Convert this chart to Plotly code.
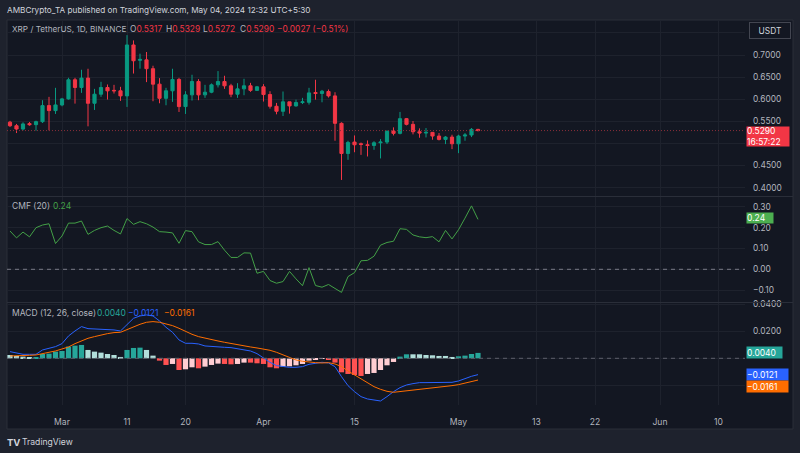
import pandas as pd
import plotly.graph_objects as go

W, H = 800, 453

# ---------------- data ----------------
start_date = "2024-02-22"
opens = [0.548, 0.540, 0.5325, 0.5447, 0.5424, 0.5492, 0.5855, 0.5742, 0.587, 0.6007,
         0.644, 0.6265, 0.6477, 0.5908, 0.6113, 0.6265, 0.620, 0.619, 0.6075, 0.7227,
         0.688, 0.689, 0.669, 0.634, 0.602, 0.619, 0.6447, 0.5833, 0.6098, 0.640,
         0.6098, 0.6158, 0.6325, 0.640, 0.6303, 0.6113, 0.6234, 0.6303, 0.620, 0.628,
         0.6105, 0.584, 0.5727, 0.594, 0.5848, 0.5924, 0.593, 0.615, 0.613, 0.6174,
         0.6075, 0.5454, 0.4772, 0.503, 0.4992, 0.4969, 0.4954, 0.5014, 0.503, 0.5279,
         0.5227, 0.556, 0.5431, 0.5264, 0.5234, 0.525, 0.5166, 0.509, 0.5143, 0.4992,
         0.5166, 0.519, 0.5317]
highs = [0.551, 0.544, 0.5477, 0.5484, 0.5514, 0.5977, 0.6053, 0.6257, 0.603, 0.6484,
         0.6484, 0.6666, 0.6689, 0.6234, 0.6394, 0.6333, 0.6325, 0.628, 0.745, 0.733,
         0.703, 0.7068, 0.6757, 0.6477, 0.6257, 0.6689, 0.6484, 0.6181, 0.6553, 0.6454,
         0.6325, 0.6356, 0.6636, 0.653, 0.6348, 0.6363, 0.6462, 0.637, 0.630, 0.634,
         0.618, 0.5916, 0.6174, 0.594, 0.599, 0.603, 0.6257, 0.644, 0.621, 0.622,
         0.6158, 0.5477, 0.506, 0.518, 0.502, 0.5067, 0.505, 0.5098, 0.528, 0.5363,
         0.5712, 0.5575, 0.5507, 0.534, 0.5348, 0.525, 0.5234, 0.5166, 0.5196, 0.5196,
         0.5234, 0.5348, 0.5329]
lows = [0.537, 0.5234, 0.5295, 0.540, 0.5287, 0.5462, 0.5295, 0.5666, 0.584, 0.599,
        0.590, 0.6143, 0.5386, 0.5757, 0.6053, 0.5992, 0.6128, 0.5961, 0.5825, 0.658,
        0.669, 0.6386, 0.5954, 0.5908, 0.5863, 0.5939, 0.5711, 0.5666, 0.5969, 0.5977,
        0.603, 0.6136, 0.6265, 0.6234, 0.6045, 0.603, 0.609, 0.6166, 0.619, 0.5947,
        0.5787, 0.5658, 0.562, 0.5673, 0.5833, 0.589, 0.5878, 0.599, 0.593, 0.6037,
        0.506, 0.4173, 0.4628, 0.480, 0.474, 0.4704, 0.4855, 0.466, 0.4985, 0.518,
        0.5204, 0.5408, 0.5204, 0.5128, 0.5135, 0.5083, 0.5067, 0.4984, 0.487, 0.4779,
        0.506, 0.5143, 0.5272]
closes = [0.540, 0.5325, 0.544, 0.5424, 0.5492, 0.5855, 0.5742, 0.587, 0.6007, 0.644,
          0.6265, 0.6477, 0.5908, 0.6113, 0.6265, 0.6189, 0.619, 0.6075, 0.7227, 0.687,
          0.690, 0.669, 0.634, 0.602, 0.619, 0.6447, 0.5833, 0.6098, 0.640, 0.6098,
          0.6158, 0.6325, 0.640, 0.6303, 0.6113, 0.6234, 0.6303, 0.620, 0.628, 0.6105,
          0.584, 0.5727, 0.594, 0.5848, 0.5924, 0.594, 0.6143, 0.613, 0.618, 0.6075,
          0.5454, 0.4772, 0.5022, 0.4969, 0.4977, 0.4954, 0.5014, 0.503, 0.5279, 0.5227,
          0.556, 0.5431, 0.5264, 0.5234, 0.525, 0.5166, 0.509, 0.5143, 0.4992, 0.5166,
          0.519, 0.5317, 0.5290]
cmf = [0.184, 0.151, 0.179, 0.156, 0.200, 0.213, 0.219, 0.124, 0.160, 0.222,
       0.222, 0.232, 0.168, 0.187, 0.200, 0.208, 0.187, 0.170, 0.244, 0.216,
       0.229, 0.219, 0.203, 0.181, 0.179, 0.175, 0.125, 0.186, 0.181, 0.132,
       0.119, 0.119, 0.133, 0.092, 0.057, 0.057, 0.079, 0.078, -0.019, -0.010,
       -0.054, -0.067, -0.059, -0.010, -0.046, -0.079, 0.008, -0.078, -0.086, -0.073,
       -0.092, -0.111, -0.035, -0.016, 0.041, 0.043, 0.063, 0.116, 0.129, 0.135,
       0.195, 0.192, 0.165, 0.156, 0.152, 0.157, 0.132, 0.187, 0.146, 0.190,
       0.246, 0.305, 0.240]
macd = [0.00494, 0.00371, 0.00296, 0.00296, 0.00296, 0.00618, 0.00741, 0.00865, 0.01087, 0.01655,
        0.02025, 0.02347, 0.02198, 0.02174, 0.02198, 0.02149, 0.02100, 0.02025, 0.0247, 0.02964,
        0.03137, 0.03211, 0.03137, 0.02766, 0.02297, 0.01927, 0.01359, 0.01112, 0.01112, 0.01062,
        0.00914, 0.00865, 0.00865, 0.00815, 0.0079, 0.00692, 0.00618, 0.00543, 0.00346, 0.0,
        -0.00296, -0.00543, -0.00618, -0.00667, -0.00667, -0.00618, -0.00445, -0.00346, -0.00296, -0.00346,
        -0.00618, -0.01359, -0.02025, -0.0247, -0.0284, -0.03013, -0.03112, -0.03162, -0.0284, -0.0247,
        -0.02174, -0.01976, -0.01877, -0.01803, -0.01803, -0.01803, -0.01828, -0.01803, -0.01778, -0.0168,
        -0.01482, -0.01334, -0.0121]
signal = [0.00173, 0.00173, 0.00198, 0.00222, 0.00247, 0.00321, 0.00445, 0.00543, 0.00667, 0.0084,
          0.01087, 0.01309, 0.01482, 0.01606, 0.01729, 0.01828, 0.01902, 0.01927, 0.02124, 0.02347,
          0.02519, 0.02668, 0.02717, 0.02668, 0.02569, 0.02421, 0.02223, 0.01976, 0.01778, 0.01606,
          0.01482, 0.01383, 0.01284, 0.01186, 0.01087, 0.01013, 0.00914, 0.0084, 0.00766, 0.00692,
          0.00593, 0.00445, 0.00247, 0.00049, -0.00124, -0.00222, -0.00296, -0.00321, -0.00346, -0.00321,
          -0.0042, -0.00618, -0.00939, -0.01235, -0.01531, -0.01853, -0.021, -0.02297, -0.02445, -0.02519,
          -0.0247, -0.02396, -0.02347, -0.02272, -0.02223, -0.02174, -0.02124, -0.02075, -0.02025, -0.01951,
          -0.01853, -0.01754, -0.0161]
hist = [0.00247, 0.00173, 0.00124, 0.00074, 0.00099, 0.00321, 0.00346, 0.00494, 0.00543, 0.00865,
        0.00939, 0.00988, 0.00618, 0.00494, 0.0042, 0.00321, 0.00247, 0.00099, 0.00618, 0.00766,
        0.0079, 0.00618, 0.00198, -0.00173, -0.00494, -0.0042, -0.00865, -0.00815, -0.00667, -0.00741,
        -0.00618, -0.00494, -0.00395, -0.0042, -0.00445, -0.0042, -0.00321, -0.00321, -0.00371, -0.0042,
        -0.00667, -0.00741, -0.00618, -0.00593, -0.00519, -0.0042, -0.00173, -0.00124, -0.00049, -0.00074,
        -0.00321, -0.01037, -0.01161, -0.01235, -0.01309, -0.01161, -0.01087, -0.00865, -0.00519, -0.00272,
        0.00124, 0.00296, 0.00296, 0.00296, 0.00247, 0.00222, 0.00173, 0.00173, 0.00099, 0.00148,
        0.00198, 0.00321, 0.0040]

tick_dates = ["2024-03-01", "2024-03-11", "2024-03-20", "2024-04-01", "2024-04-15",
              "2024-05-01", "2024-05-13", "2024-05-22", "2024-06-01", "2024-06-10"]
tick_text = ["Mar", "11", "20", "Apr", "15", "May", "13", "22", "Jun", "10"]
price_ticks = [0.40, 0.45, 0.50, 0.55, 0.60, 0.65, 0.70, 0.75]
price_tick_text = ["0.4000", "0.4500", "", "0.5500", "0.6000", "0.6500", "0.7000", ""]
cmf_ticks = [-0.10, 0.0, 0.10, 0.20, 0.30]
cmf_tick_text = ["\u22120.10", "0.00", "0.10", "0.20", "0.30"]
macd_ticks = [-0.02, 0.0, 0.02, 0.04]
macd_tick_text = ["", "", "0.0200", "0.0400"]

dates = pd.date_range(start_date, periods=len(closes), freq="D")

# ---------------- style ----------------
FONT = "Inter, Roboto, sans-serif"
BG_OUT = "#1e222d"
BG = "#131722"
GRID = "#1e222d"
SEP = "#2a2e39"
TXT = "#b2b5be"
UP, DOWN = "#089981", "#f23645"
CMF_C = "#43a047"
MACD_C, SIG_C = "#2962ff", "#ff6d00"
HIST_C = "#26a69a"


def fx(px):
    return px / W


def fy(py):
    return 1 - py / H


X0, X1 = 7, 745
t0 = pd.Timestamp("2024-03-01")
day_px = 6.5
xrange_ = [t0 + pd.Timedelta(days=(X0 - 62) / day_px), t0 + pd.Timedelta(days=(X1 - 62) / day_px)]

# histogram colours, TradingView rule
hcol = []
for i, v in enumerate(hist):
    prev = hist[i - 1] if i else v
    if v >= 0:
        hcol.append("#26a69a" if v > prev else "#b2dfdb")
    else:
        hcol.append("#ffcdd2" if v > prev else "#ff5252")

fig = go.Figure()
fig.add_trace(go.Candlestick(
    x=dates, open=opens, high=highs, low=lows, close=closes,
    increasing=dict(line=dict(color=UP, width=1), fillcolor=UP),
    decreasing=dict(line=dict(color=DOWN, width=1), fillcolor=DOWN),
    whiskerwidth=0, xaxis="x", yaxis="y", hoverinfo="skip"))
fig.add_trace(go.Scatter(x=dates, y=cmf, mode="lines", line=dict(color=CMF_C, width=1),
                         xaxis="x2", yaxis="y2", hoverinfo="skip"))
fig.add_trace(go.Bar(x=dates, y=hist, marker=dict(color=hcol, line=dict(width=0)),
                     width=0.8 * 86400000, xaxis="x3", yaxis="y3", hoverinfo="skip"))
fig.add_trace(go.Scatter(x=dates, y=macd, mode="lines", line=dict(color=MACD_C, width=1),
                         xaxis="x3", yaxis="y3", hoverinfo="skip"))
fig.add_trace(go.Scatter(x=dates, y=signal, mode="lines", line=dict(color=SIG_C, width=1),
                         xaxis="x3", yaxis="y3", hoverinfo="skip"))

common_x = dict(type="date", range=xrange_, domain=[fx(X0), fx(X1)], showgrid=True,
                gridcolor=GRID, gridwidth=1, tickmode="array", tickvals=tick_dates,
                ticktext=tick_text, zeroline=False, showline=False, ticks="", fixedrange=True,
                automargin=False)
common_y = dict(side="right", showgrid=True, gridcolor=GRID, gridwidth=1, zeroline=False,
                showline=False, ticks="", tickmode="array", ticklabelstandoff=7,
                tickfont=dict(color=TXT, size=8.4, family=FONT), fixedrange=True,
                automargin=False)

# pane geometry (pixels)
P_TOP, P_BOT = 20, 196
C_TOP, C_BOT = 197, 302
M_TOP, M_BOT = 303, 405

fig.update_layout(
    width=W, height=H, margin=dict(l=0, r=0, t=0, b=0, autoexpand=False),
    paper_bgcolor=BG_OUT, plot_bgcolor=BG, showlegend=False, barmode="overlay",
    font=dict(family=FONT, color=TXT, size=9),
    xaxis=dict(**common_x, anchor="y", showticklabels=False, rangeslider=dict(visible=False)),
    xaxis2=dict(**common_x, anchor="y2", showticklabels=False),
    xaxis3=dict(**common_x, anchor="y3", showticklabels=True, ticklabelstandoff=10,
                tickfont=dict(color=TXT, size=8.6, family=FONT)),
    yaxis=dict(**common_y, anchor="x", domain=[fy(P_BOT), fy(P_TOP)],
               range=[0.70 - (P_BOT - 55) / 442, 0.70 + (55 - P_TOP) / 442],
               tickvals=price_ticks, ticktext=price_tick_text),
    yaxis2=dict(**common_y, anchor="x2", domain=[fy(C_BOT), fy(C_TOP)],
                range=[(269.3 - C_BOT) / 208, (269.3 - C_TOP) / 208],
                tickvals=cmf_ticks, ticktext=cmf_tick_text),
    yaxis3=dict(**common_y, anchor="x3", domain=[fy(M_BOT), fy(M_TOP)],
                range=[(358.3 - M_BOT) / 1350, (358.3 - M_TOP) / 1350],
                tickvals=macd_ticks, ticktext=macd_tick_text),
)

shapes = [
    dict(type="rect", xref="paper", yref="paper", x0=fx(7), x1=fx(793), y0=fy(429), y1=fy(20),
         fillcolor=BG, line=dict(color=SEP, width=1), layer="below"),
    dict(type="line", xref="paper", yref="paper", x0=fx(7), x1=fx(793), y0=fy(196.5), y1=fy(196.5),
         line=dict(color=SEP, width=1)),
    dict(type="line", xref="paper", yref="paper", x0=fx(7), x1=fx(793), y0=fy(302.5), y1=fy(302.5),
         line=dict(color=SEP, width=1)),
    dict(type="line", xref="paper", yref="y", x0=fx(X0), x1=fx(X1), y0=closes[-1], y1=closes[-1],
         line=dict(color="#8a2f3a", width=1, dash="1px,2px")),
    dict(type="line", xref="paper", yref="y2", x0=fx(X0), x1=fx(X1), y0=0, y1=0,
         line=dict(color="#787b86", width=1, dash="4px,4px")),
    dict(type="line", xref="paper", yref="y3", x0=fx(X0), x1=fx(X1), y0=0, y1=0,
         line=dict(color="#5d606b", width=1, dash="4px,4px")),
]
fig.update_layout(shapes=shapes)

RED = "#f23645"
chg = closes[-1] - closes[-2]
pct = chg / closes[-2] * 100


def num(v, d):
    s = f"{v:.{d}f}"
    return s.replace("-", "\u2212")


def sp(c, t):
    return f"<span style='color:{c}'>{t}</span>"


ann = []


def text(x, y, t, size=8.5, color=TXT):
    ann.append(dict(x=fx(x), y=fy(y), xref="paper", yref="paper", text=t, showarrow=False,
                    xanchor="left", yanchor="middle", borderpad=0,
                    font=dict(size=size, color=color, family=FONT)))


text(6, 10, "AMBCrypto_TA published on TradingView.com, May 04, 2024 12:32 UTC+5:30", 8.2, "#d1d4dc")
text(11, 29, "XRP / TetherUS, 1D, BINANCE", 8.2, TXT)
text(129, 29, "O" + sp(RED, num(opens[-1], 4)), 8.4)
text(165, 29, "H" + sp(RED, num(highs[-1], 4)), 8.4)
text(202, 29, "L" + sp(RED, num(lows[-1], 4)), 8.4)
text(239, 29, "C" + sp(RED, num(closes[-1], 4)), 8.4)
text(276, 29, sp(RED, f"{num(chg, 4)} ({num(pct, 2)}%)"), 8.4)
text(11, 206, "CMF (20)", 8.5)
text(52, 206, sp(CMF_C, num(cmf[-1], 2)), 8.5)
text(11, 313, "MACD (12, 26, close)", 8.5)
text(96, 313, sp(HIST_C, num(hist[-1], 4)), 8.5)
text(127, 313, sp(MACD_C, num(macd[-1], 4)), 8.5)
text(163, 313, sp(SIG_C, num(signal[-1], 4)), 8.5)
text(6, 442, "<b>TV</b>", 9.5, "#d1d4dc")
text(21, 442, "TradingView", 8.6, "#d1d4dc")

# USDT box
ann.append(dict(x=fx(769.5), y=fy(30), xref="paper", yref="paper", text="USDT", showarrow=False,
                xanchor="center", yanchor="middle", width=38, height=13, bgcolor=BG,
                bordercolor="#434651", borderwidth=1, borderpad=1,
                font=dict(size=8.4, color="#d1d4dc", family=FONT)))


def vlabel(yref, val, t, bg, w, h=11, yshift=0):
    ann.append(dict(x=fx(746), y=val, xref="paper", yref=yref, text=t, showarrow=False,
                    xanchor="left", yanchor="middle", align="left", width=w, height=h,
                    bgcolor=bg, borderpad=0, yshift=yshift,
                    font=dict(size=8.5, color="#ffffff", family=FONT)))


ann.append(dict(x=fx(746), y=closes[-1], xref="paper", yref="y",
                text=num(closes[-1], 4) + "<br>16:57:22", showarrow=False,
                xanchor="left", yanchor="top", align="left", width=42, height=19,
                bgcolor=RED, borderpad=0, yshift=5, font=dict(size=8.5, color="#ffffff", family=FONT)))
vlabel("y2", cmf[-1], num(cmf[-1], 2), "#4caf50", 26, h=10, yshift=1)
vlabel("y3", hist[-1], num(hist[-1], 4), HIST_C, 35)
vlabel("y3", macd[-1], num(macd[-1], 4), MACD_C, 41)
vlabel("y3", signal[-1], num(signal[-1], 4), SIG_C, 41, yshift=-6)

fig.update_layout(annotations=ann)
fig.write_html("out.html")
